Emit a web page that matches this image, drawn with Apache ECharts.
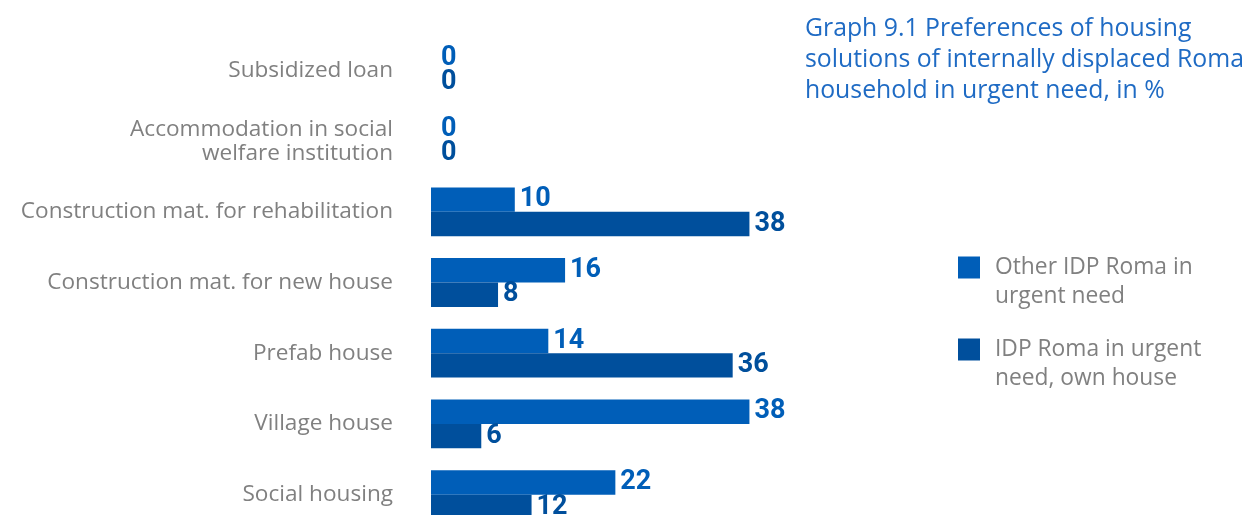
<!DOCTYPE html>
<html><head><meta charset="utf-8">
<script src="https://cdn.jsdelivr.net/npm/echarts@6/dist/echarts.min.js"></script>
<style>html,body{margin:0;padding:0;background:#fff;overflow:hidden}#c{width:1252px;height:530px}</style>
</head><body><div id="c"></div>
<script>
var categories = ['Social housing', 'Village house', 'Prefab house', 'Construction mat. for new house', 'Construction mat. for rehabilitation', 'Accommodation in social\nwelfare institution', 'Subsidized loan'];
var otherIDP = [22, 38, 14, 16, 10, 0, 0];
var ownHouse = [12, 6, 36, 8, 38, 0, 0];
var seriesNames = ['Other IDP Roma in\nurgent need', 'IDP Roma in urgent\nneed, own house'];
var titleText = 'Graph 9.1 Preferences of housing\nsolutions of internally displaced Roma\nhousehold in urgent need, in %';

var c1 = '#005EB8', c2 = '#004F9C';
var FONT = 'Open Sans';
var chart = echarts.init(document.getElementById('c'));
var lbl = function (col) {
  return { show: true, position: 'right', distance: 5, color: col, fontFamily: 'Roboto', fontWeight: 'bold', fontSize: 27 };
};
var toData = function (arr) {
  return arr.map(function (v) { return v === 0 ? { value: v, label: { distance: 10 } } : v; });
};
chart.setOption({
  animation: false,
  title: { text: titleText, left: 800, top: 8, textStyle: { color: '#1F6BC4', fontFamily: FONT, fontWeight: 'normal', fontSize: 24.8, lineHeight: 31 } },
  legend: {
    orient: 'vertical', left: 953, top: 219, itemWidth: 22, itemHeight: 22, itemGap: -5, icon: 'rect',
    data: seriesNames,
    formatter: function (n) { return '\n' + n; },
    textStyle: { color: '#808080', fontFamily: FONT, fontSize: 22.8, lineHeight: 29, padding: [0, 0, 0, 10] },
    selectedMode: false
  },
  grid: { left: 431, top: 35, width: 419, bottom: 0, containLabel: false },
  xAxis: { type: 'value', min: 0, max: 50, show: false },
  yAxis: {
    type: 'category', data: categories,
    axisLine: { show: false }, axisTick: { show: false },
    axisLabel: { color: '#808080', fontFamily: FONT, fontSize: 22.6, margin: 38, lineHeight: 24 }
  },
  series: [
    { name: seriesNames[0], type: 'bar', data: toData(otherIDP), itemStyle: { color: c1 }, label: lbl(c1), barGap: '0%', barCategoryGap: '31%' },
    { name: seriesNames[1], type: 'bar', data: toData(ownHouse), itemStyle: { color: c2 }, label: lbl(c2), barGap: '0%', barCategoryGap: '31%' }
  ]
});
</script></body></html>
